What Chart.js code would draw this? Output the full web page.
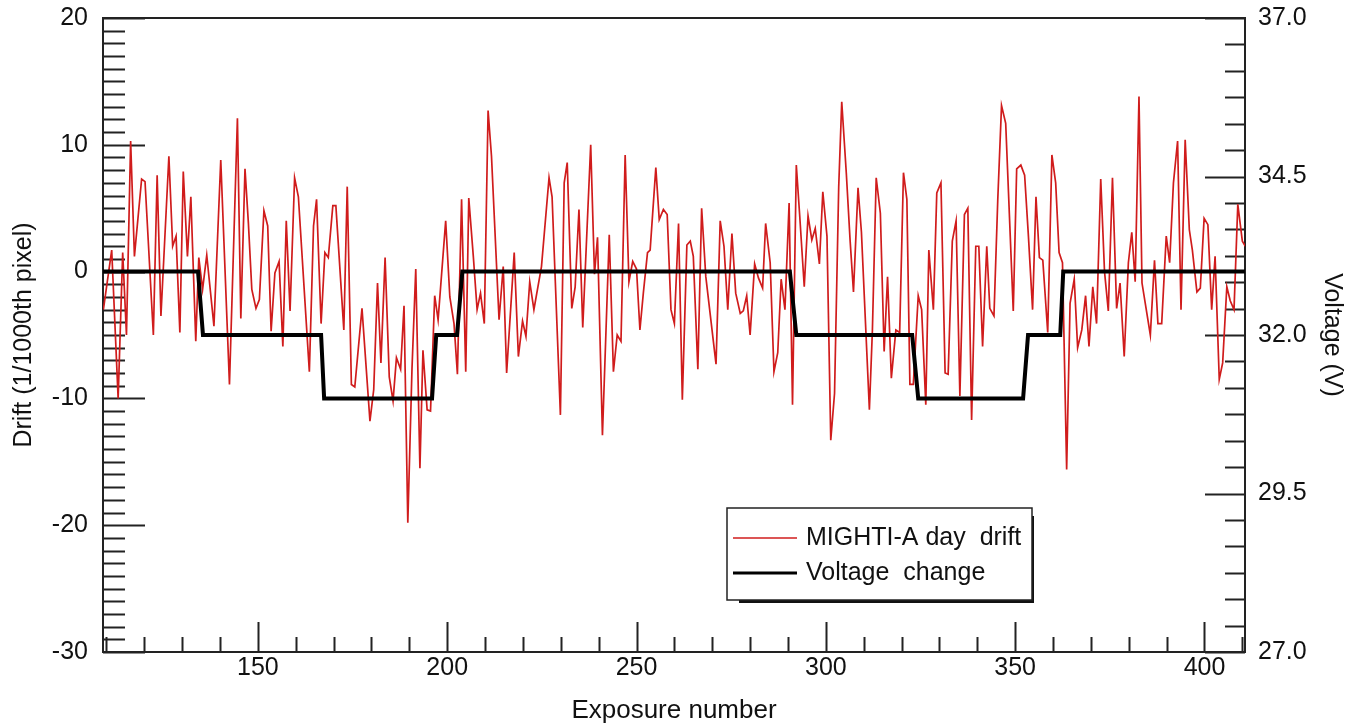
<!DOCTYPE html>
<html>
<head>
<meta charset="utf-8">
<script src="https://cdn.jsdelivr.net/npm/chart.js@4/dist/chart.umd.min.js"></script>
<style>
html,body{margin:0;padding:0;background:#fff;}
#wrap{width:1368px;height:726px;}
</style>
</head>
<body>
<div id="wrap"><canvas id="c" width="1368" height="726"></canvas></div>
<script>
// ---- data ----
const driftX = [109.2,111.4,113.1,114.3,115.3,116.4,117.4,119.3,120.2,122.4,123.4,124.4,126.5,127.5,128.4,129.4,130.3,131.4,132.3,133.6,134.4,135.4,136.5,138.4,
140.2,142.5,144.6,145.5,146.6,147.5,148.4,149.5,150.4,151.6,152.6,153.5,154.5,155.6,156.6,157.5,158.5,159.7,160.7,163.6,164.7,165.5,166.7,167.7,168.6,
169.8,170.6,172.7,173.6,174.7,175.6,177.5,179.6,180.6,181.6,182.5,183.6,184.7,185.7,186.6,187.7,188.6,189.6,190.7,191.7,192.8,193.6,194.7,195.6,196.7,197.6,199.6,
200.7,201.8,202.7,203.8,204.9,205.7,206.9,207.9,208.8,209.8,210.8,211.7,213.7,214.8,215.7,217.7,218.8,219.9,220.8,221.8,222.9,224.9,226.9,227.7,229.9,230.9,
231.7,232.9,233.8,234.8,235.8,237.9,238.9,239.7,241.0,242.8,243.9,244.9,245.9,247.0,248.0,249.0,250.0,250.9,251.8,252.9,253.6,255.1,256.0,257.1,258.1,259.1,260.0,261.1,
262.1,263.3,264.2,265.0,266.2,267.2,268.3,271.0,272.1,273.1,274.1,275.2,276.2,277.4,278.2,279.1,280.0,281.2,282.2,283.3,284.1,285.3,286.3,287.3,288.2,289.2,290.3,291.2,292.2,
293.1,294.3,295.3,296.3,297.2,298.3,299.2,300.3,301.3,302.3,303.4,304.2,305.4,306.4,307.3,308.5,309.4,311.5,312.3,313.3,314.4,315.4,316.3,317.3,318.5,319.5,320.5,321.4,322.2,
323.1,324.4,325.3,326.4,327.2,328.4,329.3,330.4,331.5,332.3,333.4,334.4,335.4,336.6,337.5,338.5,339.6,340.4,341.4,342.5,343.3,344.4,345.4,346.4,347.5,349.5,350.4,351.5,352.5,
353.5,354.6,355.5,356.4,357.3,358.6,359.7,360.7,361.6,362.5,363.6,364.5,365.6,366.5,367.6,368.6,369.5,370.5,371.5,372.6,373.6,374.6,375.7,376.8,377.7,378.8,379.9,380.8,381.7,382.7,
383.5,385.7,386.8,387.7,388.7,389.9,390.8,391.8,392.9,393.8,394.9,396.0,396.8,398.0,398.9,399.9,400.9,401.9,402.8,403.9,404.8,405.9,406.8,407.8,408.8,410.0,410.8];
const driftY = [-3.0,1.7,-10.0,1.5,-5.0,10.3,1.2,7.3,7.1,-5.0,7.6,-3.5,9.1,2.0,2.8,-4.8,7.9,1.2,5.9,-5.5,1.1,-1.4,1.3,-4.3,
8.8,-8.9,12.1,-3.7,8.1,3.8,-1.4,-2.9,-2.2,4.8,3.6,-4.7,-0.1,0.8,-5.9,4.0,-3.1,7.4,5.9,-7.9,3.6,5.7,-4.1,1.5,1.1,
5.2,5.2,-4.6,6.7,-8.9,-9.1,-2.9,-11.8,-9.3,-0.9,-7.2,1.1,-8.3,-10.2,-6.8,-7.7,-2.7,-19.8,-7.7,0.2,-15.5,-6.2,-10.9,-11.0,-1.9,-3.8,4.0,
-2.0,-4.1,-8.1,5.7,-7.9,5.8,1.2,-3.0,-1.7,-4.1,12.7,9.1,-3.8,0.4,-8.0,1.5,-6.7,-3.9,-5.1,-0.8,-3.0,0.4,7.4,5.9,-11.3,7.0,
8.6,-2.9,-1.2,4.9,-4.4,10.0,-0.2,2.7,-12.9,2.9,-7.9,-5.0,-5.5,9.2,-0.8,0.8,0.2,-4.6,-1.7,1.5,1.7,8.2,4.1,4.9,4.5,-3.0,-4.1,3.8,
-10.1,2.1,2.4,1.2,-7.7,5.0,-0.4,-7.3,4.0,2.0,-3.0,3.0,-1.7,-3.3,-3.1,-1.9,-5.0,0.6,-0.5,-1.3,3.8,0.7,-7.9,-6.4,-0.6,-3.0,5.4,-10.5,8.4,
4.4,-1.2,4.4,2.5,3.4,0.6,6.3,2.8,-13.3,-9.6,6.7,13.4,7.8,2.5,-1.6,6.6,3.1,-10.9,-4.6,7.4,4.6,-6.3,-0.4,-8.4,-4.6,-4.8,7.8,5.7,-8.9,
-8.9,-1.9,-3.0,-10.5,1.7,-3.0,6.2,7.0,-8.0,-8.1,2.4,4.0,-9.8,4.5,5.0,-11.7,2.0,2.0,-5.9,2.0,-2.9,-3.5,5.6,13.1,11.7,-3.1,8.1,8.4,7.6,
2.8,-3.0,5.9,1.1,0.9,-4.8,9.2,7.0,1.5,0.7,-15.6,-2.5,-0.6,-6.0,-4.6,-1.9,-5.9,-1.2,-4.1,7.3,0.0,-3.1,7.4,-2.9,-0.9,-6.7,0.7,3.1,-0.8,13.8,
-0.9,-5.0,0.9,-4.1,-4.1,2.8,0.7,7.0,10.3,-3.0,10.4,3.3,1.7,-1.6,-1.3,4.2,3.7,-3.0,1.2,-8.5,-7.2,-1.2,-2.3,-3.0,5.3,2.4,2.0];

const voltX = [109.1,134.2,135.5,166.7,167.5,196.0,197.1,202.6,204.0,290.5,292.2,322.8,324.4,352.1,353.4,361.9,362.7,410.7];
const voltY = [0,0,-5,-5,-10,-10,-5,-5,0,0,-5,-5,-10,-10,-5,-5,0,0];

const xTicks = [150,200,250,300,350,400];
const yTicks = [-30,-20,-10,0,10,20];
const y2Ticks = [27.0,29.5,32.0,34.5,37.0];
const seriesLabels = ['MIGHTI-A day drift','Voltage change'];

// ---- styling ----
const FONT = "'Liberation Sans', Arial, Helvetica, sans-serif";
Chart.defaults.font.family = FONT;
Chart.defaults.font.size = 25;
Chart.defaults.color = '#111';

const toPts = (xs, ys) => xs.map((x, i) => ({x: x, y: ys[i]}));
const noPad = s => { s.paddingTop = 0; s.paddingBottom = 0; s.paddingLeft = 0; s.paddingRight = 0; };

const frameTicks = {
  id: 'frameTicks',
  beforeDatasetsDraw(chart) {
    const {ctx, chartArea: a, scales} = chart;
    const y = scales.y, y2 = scales.y2, x = scales.x;
    ctx.save();
    ctx.strokeStyle = '#222';
    ctx.lineWidth = 2;
    ctx.beginPath();
    for (let v = y.min; v <= y.max; v += 1) {
      const p = Math.round(y.getPixelForValue(v)) + 0.5;
      const len = (v % 10 === 0) ? 42 : 22;
      ctx.moveTo(a.left, p); ctx.lineTo(a.left + len, p);
    }
    const step = (y2Ticks[1] - y2Ticks[0]) / 6;
    for (let i = 0; i <= Math.round((y2.max - y2.min) / step); i++) {
      const v = y2.min + i * step;
      const p = Math.round(y2.getPixelForValue(v)) + 0.5;
      const len = (i % 6 === 0) ? 40 : 20;
      ctx.moveTo(a.right, p); ctx.lineTo(a.right - len, p);
    }
    for (let v = Math.ceil(x.min / 10) * 10; v <= x.max; v += 10) {
      const p = Math.round(x.getPixelForValue(v)) + 0.5;
      const len = (v % 50 === 0) ? 30 : 15;
      ctx.moveTo(p, a.bottom); ctx.lineTo(p, a.bottom - len);
    }
    ctx.stroke();
    ctx.strokeRect(a.left, a.top, a.right - a.left, a.bottom - a.top);
    ctx.restore();
  },
  afterDatasetsDraw(chart) {
    const {ctx} = chart;
    const bx = 727, by = 508, bw = 305, bh = 92;
    ctx.save();
    ctx.fillStyle = '#111';
    ctx.fillRect(bx + 12, by + bh - 1, bw - 10, 4);
    ctx.fillRect(bx + bw - 1, by + 8, 3, bh - 5);
    ctx.fillStyle = '#fff';
    ctx.fillRect(bx, by, bw, bh);
    ctx.strokeStyle = '#222';
    ctx.lineWidth = 1.5;
    ctx.strokeRect(bx, by, bw, bh);
    ctx.font = '25px ' + FONT;
    ctx.textBaseline = 'middle';
    ctx.textAlign = 'left';
    ctx.fillStyle = '#111';
    chart.data.datasets.forEach((ds, i) => {
      const ly = by + 30 + i * 35;
      ctx.strokeStyle = ds.borderColor;
      ctx.lineWidth = i === 0 ? 1.5 : 3;
      ctx.beginPath(); ctx.moveTo(bx + 6, ly); ctx.lineTo(bx + 70, ly); ctx.stroke();
      ctx.fillText(ds.label.replace(' drift', '  drift').replace('Voltage ', 'Voltage  '), bx + 79, ly);
    });
    ctx.restore();
  }
};

new Chart(document.getElementById('c'), {
  type: 'line',
  data: {
    datasets: [
      {label: seriesLabels[0], data: toPts(driftX, driftY), borderColor: '#d01c1c', borderWidth: 1.7,
       pointRadius: 0, tension: 0, order: 2, yAxisID: 'y'},
      {label: seriesLabels[1], data: toPts(voltX, voltY), borderColor: '#000', borderWidth: 4,
       pointRadius: 0, tension: 0, order: 1, yAxisID: 'y'}
    ]
  },
  options: {
    responsive: false, animation: false,
    layout: {padding: {top: 18, left: 0, right: 0, bottom: 0}},
    plugins: {legend: {display: false}, tooltip: {enabled: false}},
    scales: {
      x: {
        type: 'linear', min: 109.1, max: 410.7,
        afterBuildTicks: s => { s.ticks = xTicks.map(v => ({value: v})); },
        afterFit: s => { s.height = 74; noPad(s); },
        grid: {display: false, drawTicks: false}, border: {display: false},
        ticks: {padding: 1, maxRotation: 0, autoSkip: false},
        title: {display: true, text: 'Exposure number', font: {size: 26}, padding: {top: 9, bottom: 0}}
      },
      y: {
        type: 'linear', position: 'left', min: -30, max: 20,
        afterBuildTicks: s => { s.ticks = yTicks.map(v => ({value: v})); },
        afterFit: s => { s.width = 103; noPad(s); },
        grid: {display: false, drawTicks: false}, border: {display: false},
        ticks: {padding: 15, autoSkip: false},
        title: {display: true, text: 'Drift (1/1000th pixel)', padding: {top: 9, bottom: 0}}
      },
      y2: {
        type: 'linear', position: 'right', min: 27, max: 37,
        afterBuildTicks: s => { s.ticks = y2Ticks.map(v => ({value: v})); },
        afterFit: s => { s.width = 123; noPad(s); },
        grid: {display: false, drawTicks: false}, border: {display: false},
        ticks: {padding: 13, autoSkip: false, callback: v => Number(v).toFixed(1)},
        title: {display: true, text: 'Voltage (V)', padding: {top: 21, bottom: 0}}
      }
    }
  },
  plugins: [frameTicks]
});
</script>
</body>
</html>
